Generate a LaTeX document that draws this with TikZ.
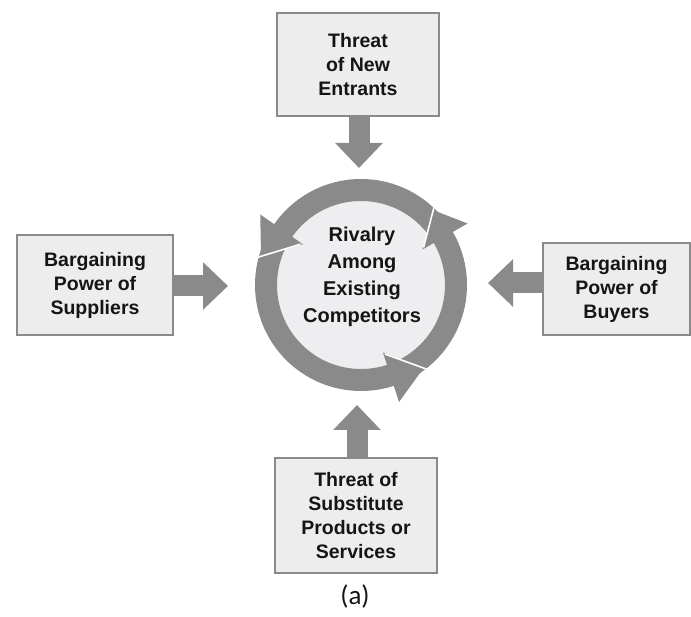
\documentclass[tikz,border=0pt]{standalone}
\usepackage{fontspec}
\setmainfont{Liberation Sans}
\newfontfamily\capfont{Carlito}
\usetikzlibrary{arrows.meta,calc}
\definecolor{ringgray}{HTML}{8A8A8A}
\definecolor{boxfill}{HTML}{EDEDED}
\definecolor{boxline}{HTML}{8A8A8A}
\definecolor{diskfill}{HTML}{EEEEF0}
\definecolor{txt}{HTML}{151515}
% #1 base angle, #2 tip angle
\newcommand{\ringhead}[2]{%
  \fill[ringgray] ($(c)+(#1:123)$) -- ($(c)+(#2:104)$) -- ($(c)+(#1:71)$) -- cycle;
  \draw[white, line width=1.6pt] ($(c)+(#1+1:73)$) -- ($($(c)+(#1+1:73)$)!1.12!($(c)+(#2:104)$)$);}
\begin{document}
\begin{tikzpicture}[x=1pt,y=1pt,
  forcebox/.style={draw=boxline, line width=1.8pt, fill=boxfill, inner sep=0pt,
    align=center, font=\bfseries\fontsize{19.5}{24}\selectfont, text=txt},
  blockarrow/.style={draw=ringgray, line width=21pt,
    -{Triangle[width=46pt,length=25pt]}}]
\useasboundingbox (0,0) rectangle (691,617);
% ring
\coordinate (c) at (361,332);
\fill[diskfill] (c) circle[radius=85];
\fill[ringgray, even odd rule] (c) circle[radius=106] (c) circle[radius=84];
\ringhead{145}{164}
\ringhead{288}{307}
\ringhead{30}{46}
\node[align=center, font=\bfseries\fontsize{20}{27}\selectfont, text=txt] (rival) at (362,340)
  {Rivalry\\Among\\Existing\\Competitors};
% boxes
\node[forcebox, minimum width=162pt, minimum height=103pt] (top) at (358,552.5)
  {Threat\\of New\\Entrants};
\node[forcebox, minimum width=156pt, minimum height=100pt] (left) at (95,332)
  {Bargaining\\Power of\\Suppliers};
\node[forcebox, minimum width=147pt, minimum height=92pt] (right) at (616.5,328)
  {Bargaining\\Power of\\Buyers};
\node[forcebox, minimum width=162pt, minimum height=115pt] (bottom) at (356,101.5)
  {Threat of\\Substitute\\Products or\\Services};
% arrow ends
\coordinate (tt) at (359,449);
\coordinate (lt) at (228,331);
\coordinate (rt) at (488,334);
\coordinate (bt) at (357,212);
\draw[blockarrow] (top.south -| tt) -- (tt);
\draw[blockarrow] (left.east |- lt) -- (lt);
\draw[blockarrow] (right.west |- rt) -- (rt);
\draw[blockarrow] (bottom.north -| bt) -- (bt);
% caption
\node[font=\capfont\fontsize{27}{30}\selectfont, text=txt] (cap) at (355,20) {(a)};
\end{tikzpicture}
\end{document}
